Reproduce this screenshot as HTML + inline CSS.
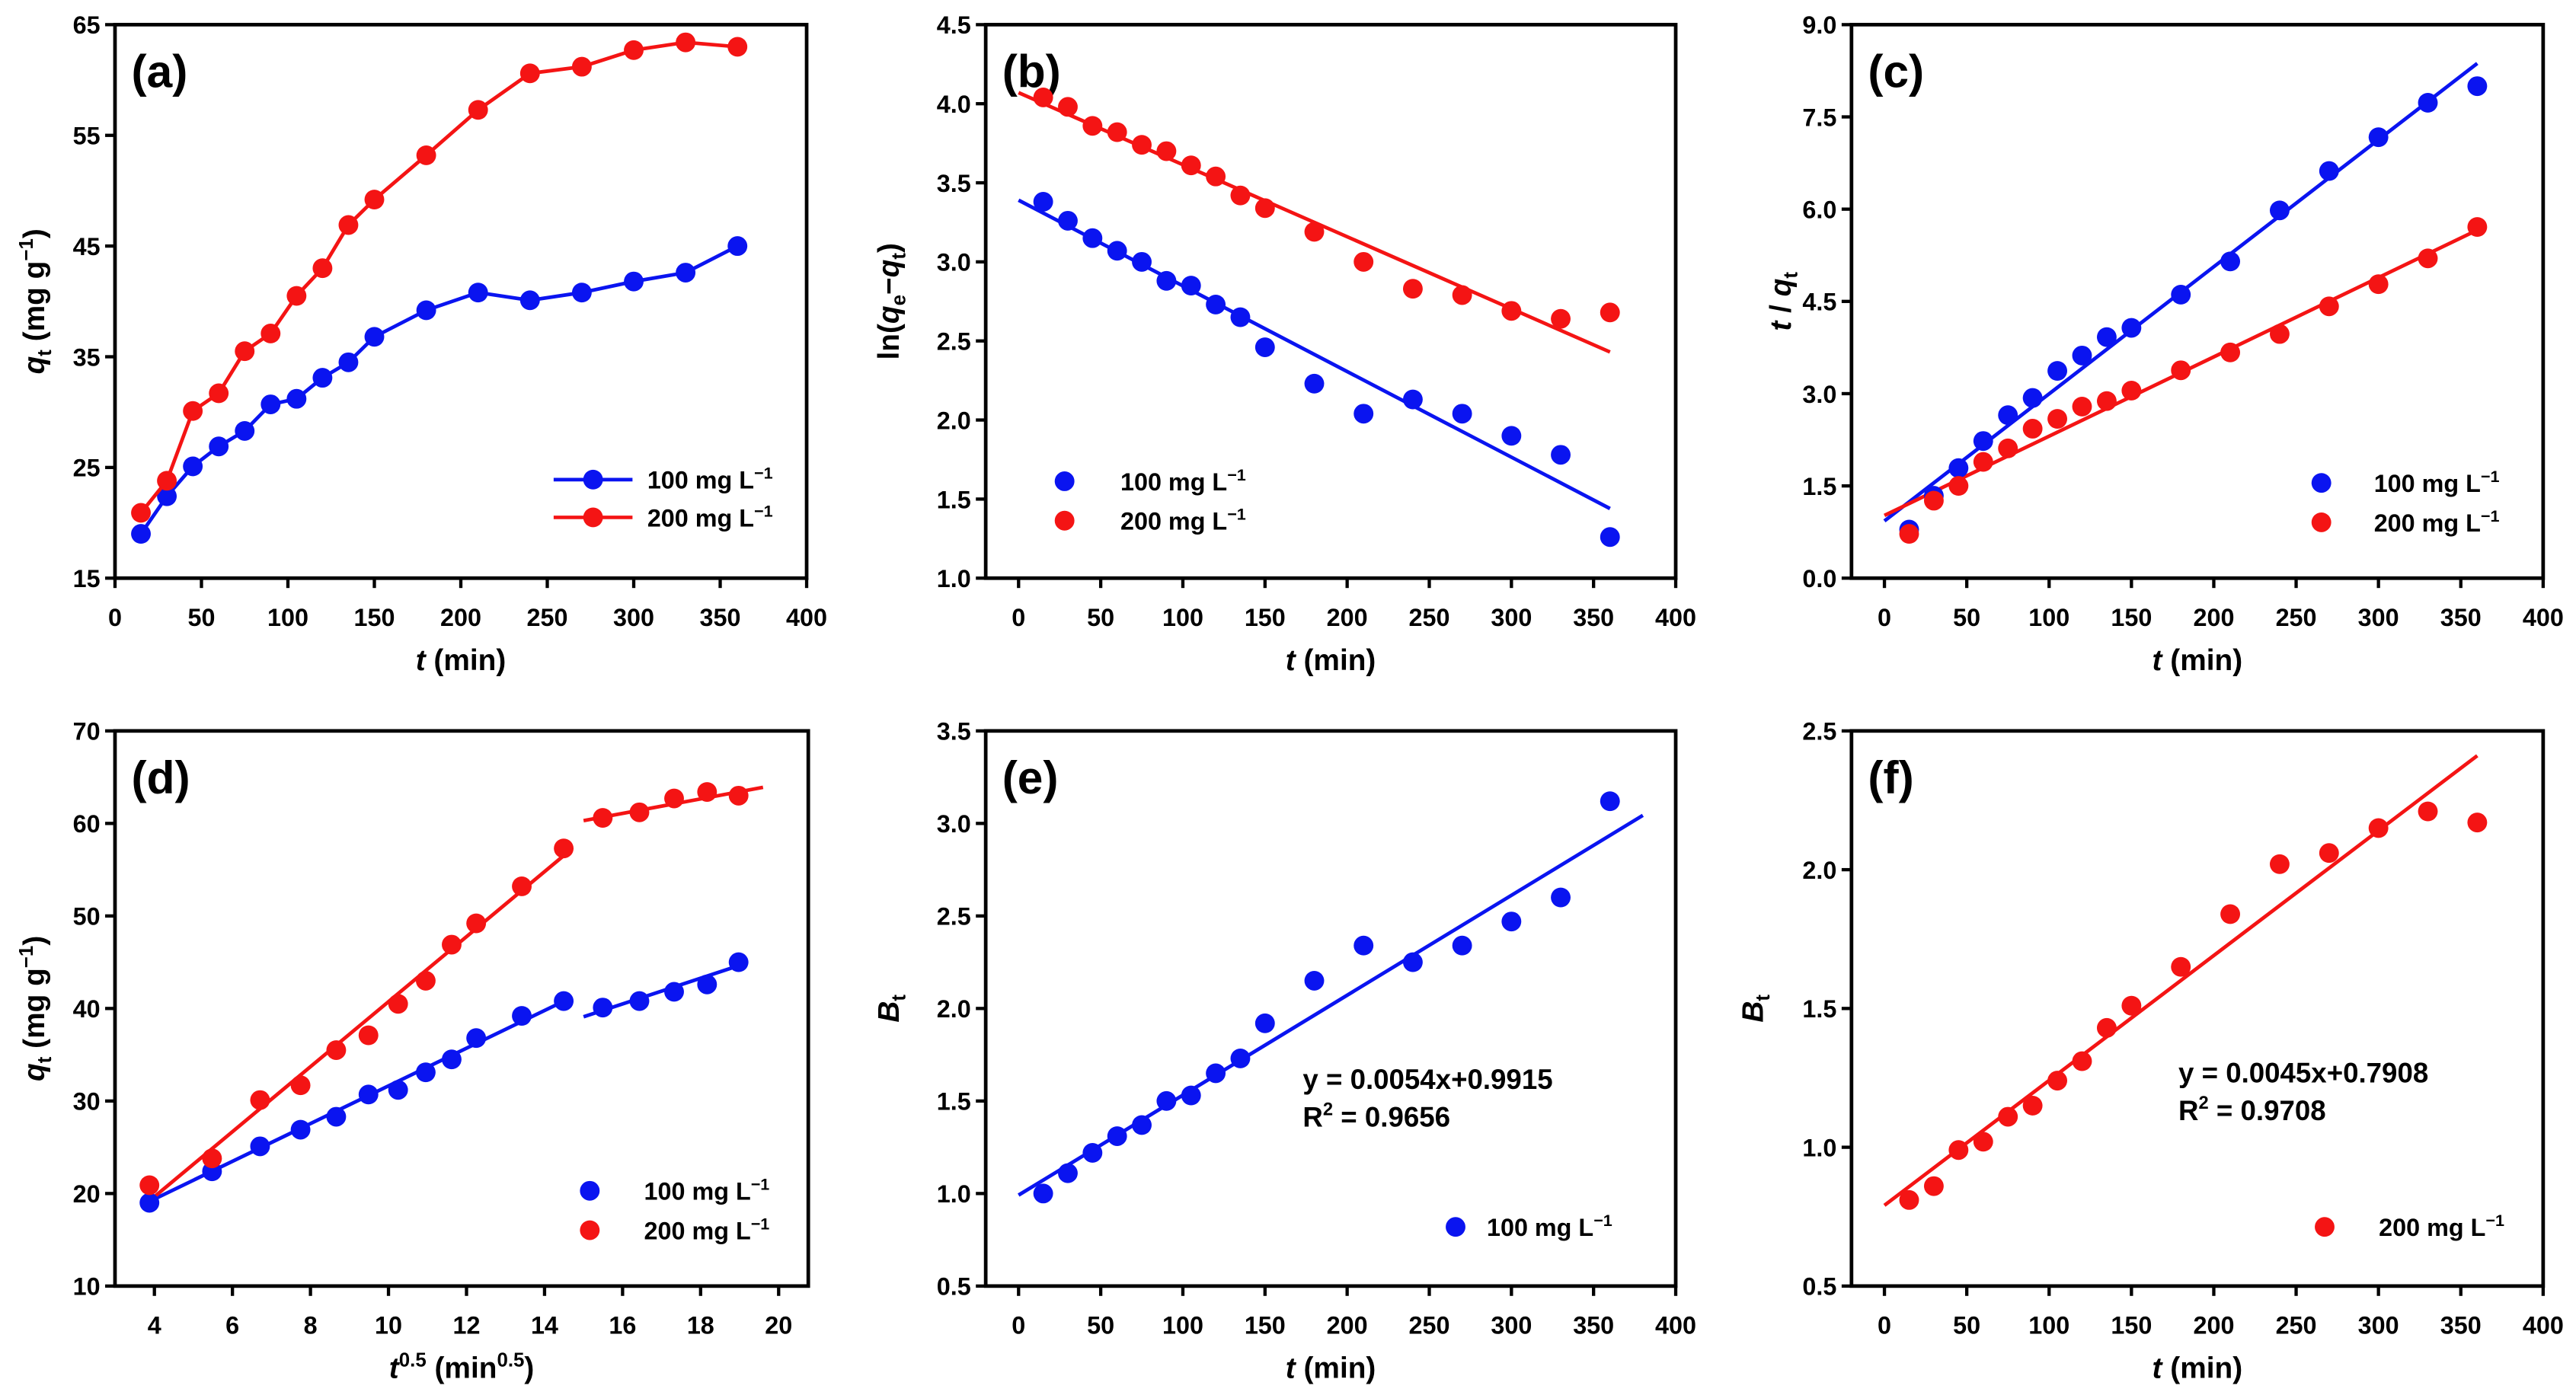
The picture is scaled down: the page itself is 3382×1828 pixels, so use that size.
<!DOCTYPE html>
<html><head><meta charset="utf-8"><style>
html,body{margin:0;padding:0;background:#fff;}
svg{display:block;font-family:"Liberation Sans",Arial,sans-serif;font-weight:bold;}
</style></head><body>
<svg id="fig" width="3382" height="1828" viewBox="0 0 1568 847.5" xmlns="http://www.w3.org/2000/svg"></svg>
<script>
const times = [15,30,45,60,75,90,105,120,135,150,180,210,240,270,300,330,360];
const qt100 = [19,22.4,25.1,26.9,28.3,30.7,31.2,33.1,34.5,36.8,39.2,40.8,40.1,40.8,41.8,42.6,45.0];
const qt200 = [20.9,23.8,30.1,31.7,35.5,37.1,40.5,43.0,46.9,49.2,53.2,57.3,60.6,61.2,62.7,63.4,63.0];
const ln100 = [3.38,3.26,3.15,3.07,3.0,2.88,2.85,2.73,2.65,2.46,2.23,2.04,2.13,2.04,1.90,1.78,1.26];
const ln200 = [4.04,3.98,3.86,3.82,3.74,3.70,3.61,3.54,3.42,3.34,3.19,3.00,2.83,2.79,2.69,2.64,2.68];
const lnFit100 = [[0,3.39],[360,1.44]];
const lnFit200 = [[0,4.07],[360,2.43]];
const tq100 = [0.79,1.34,1.79,2.23,2.65,2.93,3.37,3.62,3.92,4.07,4.61,5.15,5.98,6.62,7.17,7.73,8.0];
const tq200 = [0.72,1.26,1.50,1.89,2.11,2.43,2.59,2.79,2.88,3.05,3.38,3.67,3.97,4.42,4.78,5.20,5.71];
const tqFit100 = [[0,0.93],[360,8.37]];
const tqFit200 = [[0,1.02],[360,5.66]];
const ipdFit100a = [[3.9,19.2],[14.5,40.8]];
const ipdFit100b = [[15,39.1],[19.1,44.8]];
const ipdFit200a = [[3.9,19.3],[14.6,56.9]];
const ipdFit200b = [[15,60.3],[19.6,63.9]];
const bt100 = [1.0,1.11,1.22,1.31,1.37,1.50,1.53,1.65,1.73,1.92,2.15,2.34,2.25,2.34,2.47,2.60,3.12];
const bt200 = [0.81,0.86,0.99,1.02,1.11,1.15,1.24,1.31,1.43,1.51,1.65,1.84,2.02,2.06,2.15,2.21,2.17];
const btSlope100 = 0.0054, btInt100 = 0.9915;
const btSlope200 = 0.0045, btInt200 = 0.7908;
const xTicksT = [0,50,100,150,200,250,300,350,400];
const xTicksD = [4,6,8,10,12,14,16,18,20];
const yTicksA = [15,25,35,45,55,65];
const yTicksB = ["1.0","1.5","2.0","2.5","3.0","3.5","4.0","4.5"];
const yTicksC = ["0.0","1.5","3.0","4.5","6.0","7.5","9.0"];
const yTicksD = [10,20,30,40,50,60,70];
const yTicksE = ["0.5","1.0","1.5","2.0","2.5","3.0","3.5"];
const yTicksF = ["0.5","1.0","1.5","2.0","2.5"];

const NS="http://www.w3.org/2000/svg";
const svg=document.getElementById('fig');
function mk(tag,attrs,parent){const e=document.createElementNS(NS,tag);for(const k in attrs)e.setAttribute(k,attrs[k]);(parent||svg).appendChild(e);return e;}
const BLUE="#0a14f0", RED="#f41414";

function panel(o){
  const g=mk('g',{});
  
  
  const sx=v=>o.L+(v-o.xmin)/(o.xmax-o.xmin)*(o.R-o.L);
  const sy=v=>o.B-(v-o.ymin)/(o.ymax-o.ymin)*(o.B-o.T);
  const box=mk('rect',{x:o.L,y:o.T,width:o.R-o.L,height:o.B-o.T,fill:'none',stroke:'#000','stroke-width':2.2},g);
  
  
  o.xt.forEach(v=>{
    const x=sx(+v);
    mk('line',{x1:x,y1:o.B,x2:x,y2:o.B+6,stroke:'#000','stroke-width':2},g);
    const t=mk('text',{x:x,y:o.B+29,'font-size':15,'text-anchor':'middle'},g);
    t.textContent=v;
    
    
  });
  o.yt.forEach(v=>{
    const y=sy(+v);
    mk('line',{x1:o.L-6,y1:y,x2:o.L,y2:y,stroke:'#000','stroke-width':2},g);
    const t=mk('text',{x:o.L-9,y:y+5.5,'font-size':15,'text-anchor':'end'},g);
    t.textContent=v;
    
    
  });
  const lab=mk('text',{x:o.L+10,y:o.T+38,'font-size':28},g);
  lab.textContent='('+o.id+')';
  
  
  const xt=mk('text',{x:(o.L+o.R)/2,y:o.B+56,'font-size':18,'text-anchor':'middle'},g);
  xt.innerHTML=o.xtitle;
  
  
  const yt=mk('text',{x:0,y:0,'font-size':18,'text-anchor':'middle',transform:`translate(${o.ytx},${(o.T+o.B)/2}) rotate(-90)`},g);
  yt.innerHTML=o.ytitle;
  
  
  return {g,sx,sy};
}
function fitLine(p,pts,color,name){
  const l=mk('line',{x1:p.sx(pts[0][0]),y1:p.sy(pts[0][1]),x2:p.sx(pts[1][0]),y2:p.sy(pts[1][1]),stroke:color,'stroke-width':2.2},p.g);
  
  
}
function series(p,xs,ys,color,name,connect){
  if(connect){
    const pl=mk('polyline',{points:xs.map((x,i)=>p.sx(x)+','+p.sy(ys[i])).join(' '),fill:'none',stroke:color,'stroke-width':2.2},p.g);
    
    
  }
  xs.forEach((x,i)=>{
    const c=mk('circle',{cx:p.sx(x),cy:p.sy(ys[i]),r:6,fill:color},p.g);
    
    
  });
}
function legend(p,x,y,color,label,withLine,textX){
  if(withLine){
    const l=mk('line',{x1:x-24,y1:y,x2:x+24,y2:y,stroke:color,'stroke-width':2.2},p.g);
    
    
  }
  const c=mk('circle',{cx:x,cy:y,r:6,fill:color},p.g);
  
  
  const t=mk('text',{x:textX,y:y+5.5,'font-size':15},p.g);
  t.innerHTML=label+' mg L<tspan font-size="10" dy="-6">−1</tspan>';
  
  
}
function eq(p,x,y,line1,r2){
  const t=mk('text',{x:x,y:y,'font-size':17},p.g);
  t.textContent=line1;
  
  
  const t2=mk('text',{x:x,y:y+23,'font-size':17},p.g);
  t2.innerHTML='R<tspan font-size="11" dy="-7">2</tspan><tspan dy="7"> = '+r2+'</tspan>';
  
  
}
const qtTitle='<tspan font-style="italic">q</tspan><tspan font-size="12" dy="4">t</tspan><tspan dy="-4"> (mg g</tspan><tspan font-size="12" dy="-7">−1</tspan><tspan dy="7">)</tspan>';
const tTitle='<tspan font-style="italic">t</tspan> (min)';
const btTitle='<tspan font-style="italic">B</tspan><tspan font-size="12" dy="4">t</tspan>';

// (a)
let p=panel({id:'a',L:70,R:491,T:15,B:352,xmin:0,xmax:400,ymin:15,ymax:65,xt:xTicksT,yt:yTicksA,xtitle:tTitle,ytitle:qtTitle,ytx:27});
series(p,times,qt100,BLUE,'a-100',true);
series(p,times,qt200,RED,'a-200',true);
legend(p,361,292,BLUE,'100',true,394);
legend(p,361,315,RED,'200',true,394);
// (b)
p=panel({id:'b',L:600,R:1020,T:15,B:352,xmin:-20,xmax:400,ymin:1,ymax:4.5,xt:xTicksT,yt:yTicksB,xtitle:tTitle,ytitle:'ln(<tspan font-style="italic">q</tspan><tspan font-size="12" dy="4">e</tspan><tspan dy="-4">−</tspan><tspan font-style="italic">q</tspan><tspan font-size="12" dy="4">t</tspan><tspan dy="-4">)</tspan>',ytx:547});
fitLine(p,lnFit100,BLUE,'b-fit-100');
fitLine(p,lnFit200,RED,'b-fit-200');
series(p,times,ln100,BLUE,'b-100',false);
series(p,times,ln200,RED,'b-200',false);
legend(p,648,293,BLUE,'100',false,682);
legend(p,648,317,RED,'200',false,682);
// (c)
p=panel({id:'c',L:1127,R:1548,T:15,B:352,xmin:-20,xmax:400,ymin:0,ymax:9,xt:xTicksT,yt:yTicksC,xtitle:tTitle,ytitle:'<tspan font-style="italic">t</tspan> / <tspan font-style="italic">q</tspan><tspan font-size="12" dy="4">t</tspan>',ytx:1090});
fitLine(p,tqFit100,BLUE,'c-fit-100');
fitLine(p,tqFit200,RED,'c-fit-200');
series(p,times,tq100,BLUE,'c-100',false);
series(p,times,tq200,RED,'c-200',false);
legend(p,1413,294,BLUE,'100',false,1445);
legend(p,1413,318,RED,'200',false,1445);
// (d)
const sqrtT=times.map(Math.sqrt);
p=panel({id:'d',L:70,R:492,T:445,B:783,xmin:2.99,xmax:20.76,ymin:10,ymax:70,xt:xTicksD,yt:yTicksD,xtitle:'<tspan font-style="italic">t</tspan><tspan font-size="12" dy="-7">0.5</tspan><tspan dy="7"> (min</tspan><tspan font-size="12" dy="-7">0.5</tspan><tspan dy="7">)</tspan>',ytitle:qtTitle,ytx:27});
fitLine(p,ipdFit100a,BLUE,'d-fit-100-stage1');
fitLine(p,ipdFit100b,BLUE,'d-fit-100-stage2');
fitLine(p,ipdFit200a,RED,'d-fit-200-stage1');
fitLine(p,ipdFit200b,RED,'d-fit-200-stage2');
series(p,sqrtT,qt100,BLUE,'d-100',false);
series(p,sqrtT,qt200,RED,'d-200',false);
legend(p,359,725,BLUE,'100',false,392);
legend(p,359,749,RED,'200',false,392);
// (e)
p=panel({id:'e',L:600,R:1020,T:445,B:783,xmin:-20,xmax:400,ymin:0.5,ymax:3.5,xt:xTicksT,yt:yTicksE,xtitle:tTitle,ytitle:btTitle,ytx:547});
fitLine(p,[[0,btInt100],[380,btInt100+btSlope100*380]],BLUE,'e-fit-100');
series(p,times,bt100,BLUE,'e-100',false);
eq(p,793,663,'y = 0.0054x+0.9915','0.9656');
legend(p,886,747,BLUE,'100',false,905);
// (f)
p=panel({id:'f',L:1127,R:1548,T:445,B:783,xmin:-20,xmax:400,ymin:0.5,ymax:2.5,xt:xTicksT,yt:yTicksF,xtitle:tTitle,ytitle:btTitle,ytx:1073});
fitLine(p,[[0,btInt200],[360,btInt200+btSlope200*360]],RED,'f-fit-200');
series(p,times,bt200,RED,'f-200',false);
eq(p,1326,659,'y = 0.0045x+0.7908','0.9708');
legend(p,1415,747,RED,'200',false,1448);
</script>
</body></html>
